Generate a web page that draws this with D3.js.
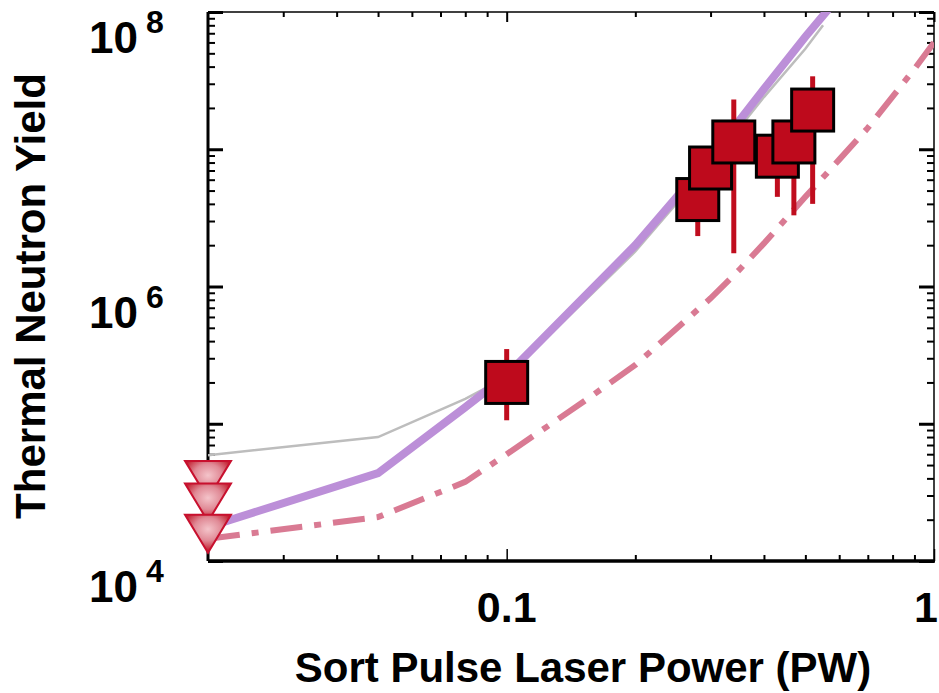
<!DOCTYPE html>
<html>
<head>
<meta charset="utf-8">
<script src="https://cdn.jsdelivr.net/npm/d3@7"></script>
<style>
  body { margin: 0; background: #fff; }
  text { font-family: "Liberation Sans", Arial, sans-serif; font-weight: bold; fill: #000; }
</style>
</head>
<body>
<svg width="939" height="693"></svg>
<script>
// ---- data ----
var simX    = [0.02, 0.05, 0.08, 0.1, 0.2, 0.3, 0.4, 0.5, 0.6];
var purpleY = [1.77e4, 4.37e4, 1.32e5, 2.27e5, 2.0e6, 8.7e6, 2.75e7, 6.6e7, 1.3e8];

var grayX = [0.02, 0.05, 0.08, 0.1, 0.2, 0.3, 0.4, 0.5, 0.55];
var grayY = [5.9e4, 8.0e4, 1.52e5, 2.2e5, 1.8e6, 7.8e6, 2.4e7, 5.4e7, 8.0e7];

var pinkX = [0.02, 0.05, 0.08, 0.1, 0.15, 0.2, 0.3, 0.35, 0.4, 0.5, 0.6, 0.7, 0.8, 0.9, 1.0];
var pinkY = [1.45e4, 2.09e4, 3.77e4, 6.0e4, 1.42e5, 2.68e5, 8.2e5, 1.32e6, 2.06e6, 4.5e6, 8.4e6, 1.43e7, 2.42e7, 3.85e7, 6.0e7];

var expX  = [0.1, 0.28, 0.30, 0.34, 0.43, 0.47, 0.52];
var expY  = [2.0e5, 4.3e6, 7.3e6, 1.13e7, 8.9e6, 1.13e7, 1.93e7];
var errLo = [1.06e5, 2.33e6, 5.0e6, 1.75e6, 4.5e6, 3.3e6, 4.0e6];
var errHi = [3.5e5, 6.0e6, 1.0e7, 2.3e7, 1.4e7, 2.5e7, 3.4e7];

var limX = [0.02, 0.02, 0.02];
var limY = [3.9e4, 2.67e4, 1.58e4];

var xMajor = [0.1, 1];
var xMinor = [0.03, 0.04, 0.05, 0.06, 0.07, 0.08, 0.09, 0.2, 0.3, 0.4, 0.5, 0.6, 0.7, 0.8, 0.9];
var xLabels = ["0.1", "1"];
var yMajor = [1e4, 1e5, 1e6, 1e7, 1e8];
var yMinor = [];
[1e4, 1e5, 1e6, 1e7].forEach(function(d) {
  for (var k = 2; k <= 9; k++) yMinor.push(k * d);
});
var yLabelVals = [1e4, 1e6, 1e8];
var yLabelExp = ["4", "6", "8"];

// ---- layout ----
var svg = d3.select("svg"),
    pl = 208, pr = 934, pt = 12, pb = 561;

var x = d3.scaleLog().domain([0.02, 1]).range([pl, pr]);
var y = d3.scaleLog().domain([1e4, 1e8]).range([pb, pt]);

var defs = svg.append("defs");
defs.append("clipPath").attr("id", "plot")
  .append("rect").attr("x", pl).attr("y", pt)
  .attr("width", pr - pl).attr("height", pb - pt);

var grad = defs.append("radialGradient").attr("id", "tri")
  .attr("cx", "50%").attr("cy", "38%").attr("r", "55%");
grad.append("stop").attr("offset", "0%").attr("stop-color", "#f4c4ca");
grad.append("stop").attr("offset", "55%").attr("stop-color", "#e08a96");
grad.append("stop").attr("offset", "100%").attr("stop-color", "#c42434");

// ---- axes: ticks point inward ----
function tickAxis(axis, vals, size, tr) {
  var g = svg.append("g").attr("transform", tr)
    .call(axis.tickValues(vals).tickSize(size).tickFormat(""));
  g.select(".domain").remove();
  g.selectAll(".tick line").attr("stroke", "#000").attr("stroke-width", 2);
  return g;
}
tickAxis(d3.axisBottom(x), xMinor, -6, "translate(0," + pb + ")");
tickAxis(d3.axisBottom(x), xMajor, -12, "translate(0," + pb + ")").selectAll(".tick line").attr("stroke-width", 1.5);
tickAxis(d3.axisTop(x), xMinor, -5, "translate(0," + pt + ")");
tickAxis(d3.axisTop(x), xMajor, -10, "translate(0," + pt + ")");
tickAxis(d3.axisLeft(y), yMinor, -7, "translate(" + pl + ",0)");
tickAxis(d3.axisLeft(y), yMajor, -15, "translate(" + pl + ",0)").selectAll(".tick line").attr("stroke-width", 3);
tickAxis(d3.axisRight(y), yMinor, -7, "translate(" + pr + ",0)");
tickAxis(d3.axisRight(y), yMajor, -15, "translate(" + pr + ",0)").selectAll(".tick line").attr("stroke-width", 3);

// frame
svg.append("line").attr("x1", pl).attr("x2", pr).attr("y1", pt).attr("y2", pt)
  .attr("stroke", "#000").attr("stroke-width", 1.5);
svg.append("line").attr("x1", pr).attr("x2", pr).attr("y1", pt).attr("y2", pb)
  .attr("stroke", "#000").attr("stroke-width", 1.5);
svg.append("line").attr("x1", pl).attr("x2", pr + 1).attr("y1", pb).attr("y2", pb)
  .attr("stroke", "#000").attr("stroke-width", 3.5);
svg.append("line").attr("x1", pl).attr("x2", pl).attr("y1", pt).attr("y2", pb)
  .attr("stroke", "#000").attr("stroke-width", 3);

// tick labels
svg.selectAll(".xl").data(xMajor).enter().append("text")
  .attr("x", function(d) { return Math.min(x(d), 926); })
  .attr("y", 622)
  .attr("text-anchor", "middle")
  .attr("font-size", 43)
  .text(function(d, i) { return xLabels[i]; });

var yl = svg.selectAll(".yl").data(yLabelVals).enter().append("text")
  .attr("x", 89)
  .attr("y", function(d) { return y(d) + 41; })
  .attr("font-size", 44);
yl.append("tspan").text("10");
yl.append("tspan").attr("font-size", 32).attr("dx", 8).attr("dy", -20)
  .text(function(d, i) { return yLabelExp[i]; });

// axis titles
svg.append("text").attr("x", 583).attr("y", 682)
  .attr("text-anchor", "middle").attr("font-size", 42)
  .text("Sort Pulse Laser Power (PW)");
svg.append("text")
  .attr("transform", "translate(45,296) rotate(-90)")
  .attr("text-anchor", "middle").attr("font-size", 42)
  .text("Thermal Neutron Yield");

// ---- curves ----
var plot = svg.append("g").attr("clip-path", "url(#plot)");
var line = d3.line().x(function(d) { return x(d[0]); }).y(function(d) { return y(d[1]); });

plot.append("path").datum(d3.zip(grayX, grayY)).attr("d", line)
  .attr("fill", "none").attr("stroke", "#bdbdbd").attr("stroke-width", 2.5);
plot.append("path").datum(d3.zip(simX, purpleY)).attr("d", line)
  .attr("fill", "none").attr("stroke", "#bc8fd8").attr("stroke-width", 8);
plot.append("path").datum(d3.zip(pinkX, pinkY)).attr("d", line)
  .attr("fill", "none").attr("stroke", "#d97a93").attr("stroke-width", 6)
  .attr("stroke-dasharray", "32,12,7,12");

// ---- experimental points ----
var pts = d3.range(expX.length);
svg.selectAll(".err").data(pts).enter().append("line")
  .attr("x1", function(i) { return x(expX[i]); })
  .attr("x2", function(i) { return x(expX[i]); })
  .attr("y1", function(i) { return y(errLo[i]); })
  .attr("y2", function(i) { return y(errHi[i]); })
  .attr("stroke", "#c00d1e").attr("stroke-width", 5);

var sq = 42;
svg.selectAll(".sq").data(pts).enter().append("rect")
  .attr("x", function(i) { return x(expX[i]) - sq / 2; })
  .attr("y", function(i) { return y(expY[i]) - sq / 2; })
  .attr("width", sq).attr("height", sq)
  .attr("fill", "#be0a1c").attr("stroke", "#000").attr("stroke-width", 3);

// upper limits
svg.selectAll(".lim").data(d3.range(limX.length)).enter().append("path")
  .attr("transform", function(i) { return "translate(" + x(limX[i]) + "," + y(limY[i]) + ")"; })
  .attr("d", "M-23,-19L23,-19L0,19Z")
  .attr("fill", "url(#tri)").attr("stroke", "#c8102e").attr("stroke-width", 2)
  .attr("stroke-linejoin", "miter");
</script>
</body>
</html>
